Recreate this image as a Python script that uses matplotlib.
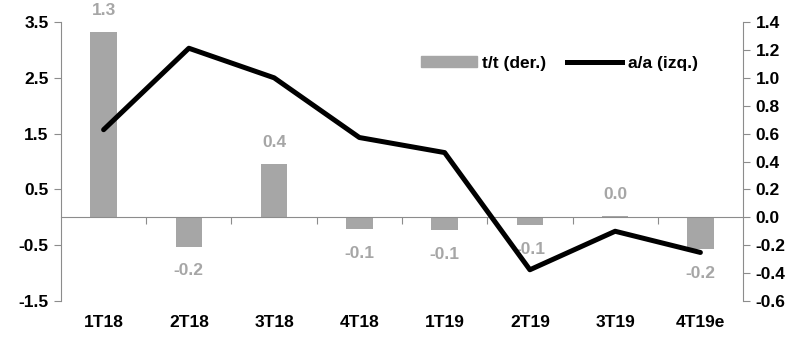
import matplotlib
matplotlib.use("Agg")
from matplotlib import pyplot as plt
import numpy as np

plt.rcParams['font.family'] = ['Liberation Sans Narrow', 'Liberation Sans', 'DejaVu Sans']
plt.rcParams['font.weight'] = 'bold'

# datos
trimestres = ["1T18", "2T18", "3T18", "4T18", "1T19", "2T19", "3T19", "4T19e"]
tt_der = [1.33, -0.21, 0.385, -0.085, -0.09, -0.057, 0.01, -0.227]   # barras, eje derecho
aa_izq = [1.57, 3.03, 2.50, 1.43, 1.16, -0.94, -0.25, -0.63]        # linea, eje izquierdo
etiquetas_tt = ["1.3", "-0.2", "0.4", "-0.1", "-0.1", "-0.1", "0.0", "-0.2"]

gris_barra = "#a6a6a6"
gris_eje = "#8c8c8c"
fs = 12.5

fig = plt.figure(figsize=(7.94, 3.37), dpi=100)
ax = fig.add_axes([0.0768, 0.1068, 0.859, 0.8279])
ax2 = ax.twinx()

x = np.arange(len(trimestres))

# barras t/t en el eje derecho
ax2.bar(x, tt_der, width=0.31, color=gris_barra, zorder=2)
for xi, v, txt in zip(x, tt_der, etiquetas_tt):
    if v >= 0:
        ax2.annotate(txt, (xi, v), xytext=(0, 10), textcoords="offset points",
                     ha="center", va="bottom", color=gris_barra, fontsize=fs, fontweight="bold")
    else:
        ax2.annotate(txt, (xi, v), xytext=(0, -12), textcoords="offset points",
                     ha="center", va="top", color=gris_barra, fontsize=fs, fontweight="bold")

# linea a/a en el eje izquierdo
ax.plot(x, aa_izq, color="black", lw=3.6, solid_capstyle="round", zorder=3)
ax.set_zorder(ax2.get_zorder() + 1)
ax.patch.set_visible(False)

ax.set_xlim(-0.5, len(trimestres) - 0.5)
ax.set_ylim(-1.5, 3.5)
ax2.set_ylim(-0.6, 1.4)
ax.set_yticks(np.arange(-1.5, 3.6, 1.0))
ax2.set_yticks(np.arange(-0.6, 1.41, 0.2))
ax.yaxis.set_major_formatter(matplotlib.ticker.FormatStrFormatter("%.1f"))
ax2.yaxis.set_major_formatter(matplotlib.ticker.FormatStrFormatter("%.1f"))

ax.set_xticks(x)
ax.set_xticklabels(trimestres)
ax.tick_params(axis="x", length=0, pad=10, labelsize=fs)

for a in (ax, ax2):
    for s in ("top", "bottom"):
        a.spines[s].set_visible(False)
    a.spines["left"].set_color(gris_eje)
    a.spines["right"].set_color(gris_eje)
ax.spines["right"].set_visible(False)
ax2.spines["left"].set_visible(False)
ax.tick_params(axis="y", length=5, color=gris_eje, labelsize=fs, pad=4)
ax2.tick_params(axis="y", length=5, color=gris_eje, labelsize=fs, pad=4)

# linea de cero con marcas entre trimestres
eje0 = ax.secondary_xaxis(1.5 / 5.0)
eje0.set_xticks(np.arange(0.5, len(trimestres) - 1, 1.0))
eje0.set_xticklabels([])
eje0.tick_params(axis="x", length=5, color=gris_eje, direction="out")
eje0.spines["bottom"].set_color(gris_eje)

# leyenda
h_bar = matplotlib.patches.Patch(color=gris_barra)
h_lin = matplotlib.lines.Line2D([], [], color="black", lw=3.6)
leg = ax.legend([h_bar, h_lin], ["t/t (der.)", "a/a (izq.)"], loc="upper left",
                bbox_to_anchor=(0.505, 0.935), ncol=2, frameon=False, fontsize=fs,
                handlelength=3.2, handleheight=0.6, columnspacing=1.2, handletextpad=0.3)

fig.savefig("out.png", dpi=100)
